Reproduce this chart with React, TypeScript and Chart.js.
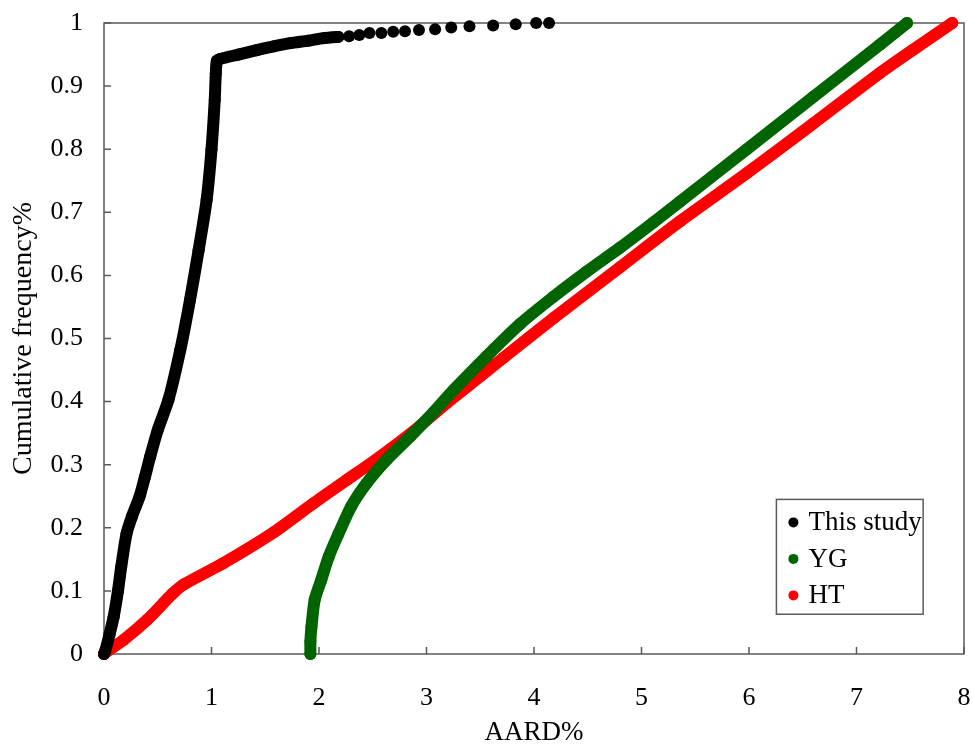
import React, { useEffect, useRef } from "react";
import { Chart, registerables } from "chart.js";

Chart.register(...registerables);

// ---- Data ----
const xTickValues = [0, 1, 2, 3, 4, 5, 6, 7, 8];
const yTickValues = [0, 0.1, 0.2, 0.3, 0.4, 0.5, 0.6, 0.7, 0.8, 0.9, 1];
const xAxisTitle = "AARD%";
const yAxisTitle = "Cumulative frequency%";

const thisStudyLabel = "This study";
const thisStudyX = [
  0, 0.01, 0.05, 0.09, 0.13, 0.16, 0.21, 0.26, 0.33, 0.38, 0.43, 0.5, 0.6, 0.71, 0.8, 0.88, 0.955, 1.0,
  1.03, 1.04, 1.05, 1.08, 1.25, 1.42, 1.58, 1.73, 1.9, 2.04, 2.18,
  2.28, 2.375, 2.47, 2.58, 2.69, 2.8, 2.93, 3.08, 3.23, 3.4, 3.62, 3.83, 4.02, 4.14,
];
const thisStudyY = [
  0, 0.004, 0.03, 0.059, 0.1, 0.138, 0.191, 0.218, 0.249, 0.28, 0.313, 0.355, 0.403, 0.482, 0.561, 0.64, 0.72, 0.8,
  0.878, 0.92, 0.94, 0.943, 0.95, 0.957, 0.963, 0.968, 0.972, 0.976, 0.978,
  0.979, 0.981, 0.984, 0.984, 0.986, 0.987, 0.989, 0.99, 0.993, 0.995, 0.996, 0.998, 1.0, 1.0,
];
// beyond this AARD value the "This study" markers are separate dots
const thisStudySparseFrom = 2.18;

const ygLabel = "YG";
const ygX = [
  1.92, 1.92, 1.93, 1.96, 2.02, 2.09, 2.18, 2.3, 2.44, 2.63, 2.85, 3.06, 3.25, 3.56, 3.87, 4.18, 4.49, 4.8,
  5.11, 5.36, 5.98, 6.6, 7.22, 7.47,
];
const ygY = [
  0, 0.02, 0.043, 0.086, 0.117, 0.154, 0.19, 0.234, 0.27, 0.308, 0.345, 0.382, 0.418, 0.472, 0.523, 0.566,
  0.606, 0.644, 0.684, 0.717, 0.8, 0.883, 0.966, 1.0,
];

const htLabel = "HT";
const htX = [
  0, 0.01, 0.18, 0.4, 0.64, 0.74, 1.11, 1.58, 1.95, 2.26, 2.57, 2.88, 3.19, 3.5, 3.72, 4.18, 4.8, 5.36, 5.98,
  6.6, 7.22, 7.53, 7.89,
];
const htY = [
  0, 0.002, 0.022, 0.054, 0.096, 0.11, 0.144, 0.193, 0.239, 0.276, 0.313, 0.353, 0.398, 0.44, 0.47, 0.532,
  0.613, 0.686, 0.762, 0.841, 0.921, 0.958, 1.0,
];

const seriesColors = ["#000000", "#006400", "#ff0000"];

const FONT = "'Times New Roman', 'Liberation Serif', serif";

const toPoints = (xs: number[], ys: number[]) => xs.map((x, i) => ({ x, y: ys[i] }));

const framePlugin = {
  id: "frameAndInnerTicks",
  beforeDatasetsDraw(chart: any) {
    const { ctx, chartArea, scales } = chart;
    const { left, right, top, bottom } = chartArea;
    ctx.save();
    ctx.strokeStyle = "#5a5a5a";
    ctx.lineWidth = 1.5;
    ctx.strokeRect(left, top, right - left, bottom - top);
    ctx.beginPath();
    xTickValues.forEach((v) => {
      const px = scales.x.getPixelForValue(v);
      ctx.moveTo(px, bottom);
      ctx.lineTo(px, bottom - 7);
    });
    yTickValues.forEach((v) => {
      const py = scales.y.getPixelForValue(v);
      ctx.moveTo(left, py);
      ctx.lineTo(left + 7, py);
    });
    ctx.stroke();
    ctx.restore();
  },
};

const boxLegendPlugin = {
  id: "boxLegend",
  afterDatasetsDraw(chart: any) {
    const { ctx, scales } = chart;
    // legend box anchored in data space near the lower right of the plot
    const boxLeft = scales.x.getPixelForValue(6.255);
    const boxRight = scales.x.getPixelForValue(7.62);
    const boxTop = scales.y.getPixelForValue(0.245);
    const boxBottom = scales.y.getPixelForValue(0.063);
    ctx.save();
    ctx.fillStyle = "#ffffff";
    ctx.fillRect(boxLeft, boxTop, boxRight - boxLeft, boxBottom - boxTop);
    ctx.strokeStyle = "#5a5a5a";
    ctx.lineWidth = 1.5;
    ctx.strokeRect(boxLeft, boxTop, boxRight - boxLeft, boxBottom - boxTop);
    ctx.font = `27px ${FONT}`;
    ctx.textBaseline = "middle";
    ctx.textAlign = "left";
    chart.data.datasets.forEach((ds: any, i: number) => {
      const cy = boxTop + 23 + i * 36.5;
      ctx.beginPath();
      ctx.fillStyle = ds.pointBackgroundColor;
      ctx.arc(boxLeft + 17, cy, 5, 0, Math.PI * 2);
      ctx.fill();
      ctx.fillStyle = "#000000";
      ctx.fillText(ds.label, boxLeft + 32, cy + 1);
    });
    ctx.restore();
  },
};

export default function App() {
  const canvasRef = useRef<HTMLCanvasElement | null>(null);

  useEffect(() => {
    if (!canvasRef.current) return;
    const makeDataset = (label: string, xs: number[], ys: number[], color: string, sparseFrom?: number) => ({
      label,
      data: toPoints(xs, ys),
      borderColor: color,
      backgroundColor: color,
      pointBackgroundColor: color,
      pointBorderColor: color,
      pointRadius: 6,
      pointHoverRadius: 6,
      pointBorderWidth: 0,
      borderWidth: 12,
      borderCapStyle: "round",
      borderJoinStyle: "round",
      showLine: true,
      tension: 0.25,
      clip: false,
      segment:
        sparseFrom !== undefined
          ? {
              borderColor: (c: any) => (c.p0.parsed.x >= sparseFrom - 1e-9 ? "rgba(0,0,0,0)" : color),
            }
          : undefined,
    });

    const zeroPad = (s: any) => {
      s.paddingLeft = 0;
      s.paddingRight = 0;
      s.paddingTop = 0;
      s.paddingBottom = 0;
    };

    const chart = new Chart(canvasRef.current, {
      type: "scatter",
      data: {
        datasets: [
          makeDataset(thisStudyLabel, thisStudyX, thisStudyY, seriesColors[0], thisStudySparseFrom),
          makeDataset(ygLabel, ygX, ygY, seriesColors[1]),
          makeDataset(htLabel, htX, htY, seriesColors[2]),
        ] as any,
      },
      options: {
        animation: false,
        responsive: false,
        devicePixelRatio: 1,
        layout: { padding: { top: 23, right: 8, left: 0, bottom: 0 }, autoPadding: false },
        plugins: {
          legend: { display: false },
          tooltip: { enabled: false },
        },
        events: [],
        scales: {
          x: {
            type: "linear",
            min: 0,
            max: 8,
            grid: { display: false, drawTicks: false },
            border: { display: false },
            ticks: {
              stepSize: 1,
              padding: 29,
              color: "#000",
              font: { family: FONT, size: 26 },
              callback: (v: any) => String(v),
            },
            title: {
              display: true,
              text: xAxisTitle,
              color: "#000",
              font: { family: FONT, size: 27, lineHeight: 1 },
              padding: { top: 0, bottom: -1 },
            },
            afterFit: (s: any) => {
              s.height = 91;
              zeroPad(s);
            },
          },
          y: {
            type: "linear",
            min: 0,
            max: 1,
            grid: { display: false, drawTicks: false },
            border: { display: false },
            ticks: {
              stepSize: 0.1,
              padding: 21,
              color: "#000",
              font: { family: FONT, size: 26 },
              callback: (v: any) => String(Number(Number(v).toFixed(1))),
            },
            title: {
              display: true,
              text: yAxisTitle,
              color: "#000",
              font: { family: FONT, size: 28, lineHeight: 1 },
              padding: { top: 10, bottom: 0 },
            },
            afterFit: (s: any) => {
              s.width = 104;
              zeroPad(s);
            },
          },
        },
      } as any,
      plugins: [framePlugin, boxLegendPlugin],
    });
    return () => chart.destroy();
  }, []);

  return (
    <div style={{ position: "absolute", left: 0, top: 0, width: 972, height: 745, background: "#fff" }}>
      <canvas ref={canvasRef} width={972} height={745} style={{ width: 972, height: 745, display: "block" }} />
    </div>
  );
}
